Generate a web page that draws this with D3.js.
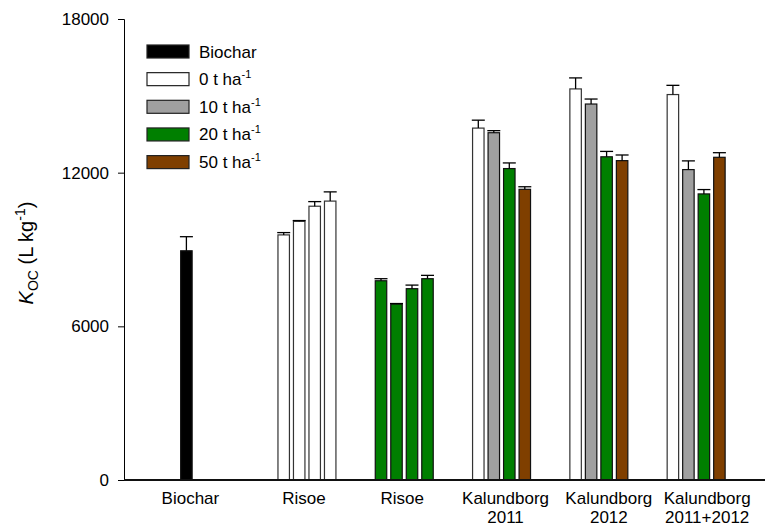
<!DOCTYPE html>
<html>
<head>
<meta charset="utf-8">
<script src="https://cdn.jsdelivr.net/npm/d3@7"></script>
<style>
  body { margin: 0; background: #fff; }
  svg { display: block; font-family: "Liberation Sans", Arial, sans-serif; }
</style>
</head>
<body>
<div id="chart"></div>
<script>
// groups along the x axis
const groups = ["Biochar", "Risoe A", "Risoe B", "Kal 2011", "Kal 2012", "Kal 2011+2012"];
const groupLabels = [["Biochar"], ["Risoe"], ["Risoe"], ["Kalundborg", "2011"], ["Kalundborg", "2012"], ["Kalundborg", "2011+2012"]];

// treatments (legend order)
const treatments = ["Biochar", "0", "10", "20", "50"];
const treatmentColors = ["#000000", "#ffffff", "#a0a0a0", "#007f00", "#7f3f00"];

// bar values and upper error per group
const biocharValues = [8950];
const biocharErrors = [550];
const biocharKeys = ["Biochar"];

const risoeAValues = [9570, 10100, 10690, 10890];
const risoeAErrors = [90, 30, 180, 360];
const risoeAKeys = ["0", "0", "0", "0"];

const risoeBValues = [7780, 6870, 7470, 7860];
const risoeBErrors = [80, 20, 140, 130];
const risoeBKeys = ["20", "20", "20", "20"];

const kal2011Values = [13740, 13560, 12160, 11350];
const kal2011Errors = [310, 80, 220, 100];
const kal2012Values = [15270, 14680, 12620, 12470];
const kal2012Errors = [430, 195, 210, 220];
const kalBothValues = [15050, 12120, 11170, 12600];
const kalBothErrors = [360, 340, 170, 180];
const kalKeys = ["0", "10", "20", "50"];

const yTicks = [0, 6000, 12000, 18000];

// flatten into bar records
function rows(group, values, errors, keys) {
    return values.map((v, i) => ({group: group, slot: i, value: v, err: errors[i], key: keys[i]}));
}
const bars = [].concat(
    rows("Biochar", biocharValues, biocharErrors, biocharKeys),
    rows("Risoe A", risoeAValues, risoeAErrors, risoeAKeys),
    rows("Risoe B", risoeBValues, risoeBErrors, risoeBKeys),
    rows("Kal 2011", kal2011Values, kal2011Errors, kalKeys),
    rows("Kal 2012", kal2012Values, kal2012Errors, kalKeys),
    rows("Kal 2011+2012", kalBothValues, kalBothErrors, kalKeys)
);

const width = 765, height = 526;
const axisLeft = 124, axisBottom = 480;

const svg = d3.select("#chart").append("svg")
    .attr("width", width)
    .attr("height", height);

const y = d3.scaleLinear()
    .domain([0, 18000])
    .range([axisBottom, 19]);

const x0 = d3.scaleBand()
    .domain(groups)
    .range([161, 744.8]);

const slotSpan = 62;
const x1 = d3.scaleBand()
    .domain([0, 1, 2, 3])
    .range([(x0.bandwidth() - slotSpan) / 2, (x0.bandwidth() + slotSpan) / 2])
    .paddingInner(0.26)
    .paddingOuter(0.13);

const color = d3.scaleOrdinal().domain(treatments).range(treatmentColors);

// bars
const barG = svg.append("g");
barG.selectAll("rect")
    .data(bars)
    .enter()
    .append("rect")
    .attr("x", d => x0(d.group) + x1(d.slot))
    .attr("y", d => y(d.value))
    .attr("width", x1.bandwidth())
    .attr("height", d => y(0) - y(d.value))
    .attr("fill", d => color(d.key))
    .attr("stroke", d => d.key == "0" ? "#333" : "#111")
    .attr("stroke-width", 1.2);

// error bars (upper only)
const errG = svg.append("g").attr("stroke", "#000").attr("stroke-width", 1.3);
bars.forEach(d => {
    const cx = x0(d.group) + x1(d.slot) + x1.bandwidth() / 2;
    errG.append("line")
        .attr("x1", cx).attr("x2", cx)
        .attr("y1", y(d.value)).attr("y2", y(d.value + d.err));
    errG.append("line")
        .attr("x1", cx - 6.5).attr("x2", cx + 6.5)
        .attr("y1", y(d.value + d.err)).attr("y2", y(d.value + d.err));
});

// y axis
svg.append("g")
    .attr("transform", `translate(${axisLeft},0)`)
    .call(d3.axisLeft(y).tickValues(yTicks).tickFormat(d3.format("d")).tickSize(6).tickPadding(9))
    .call(g => g.selectAll("text").style("font-size", "17px").attr("fill", "#000")
        .style("font-family", "'Liberation Sans', Arial, sans-serif"))
    .call(g => g.selectAll("line,path").attr("stroke", "#000"));

// x axis line
svg.append("line")
    .attr("x1", axisLeft).attr("x2", width)
    .attr("y1", axisBottom).attr("y2", axisBottom)
    .attr("stroke", "#111")
    .attr("stroke-width", 2);

// category labels (small nudges as in the original figure)
const labelNudge = [4, -3, -2, 4, 10, 11];
const labG = svg.append("g")
    .style("font-size", "17px")
    .attr("text-anchor", "middle");
groups.forEach((g, i) => {
    const cx = (i == 0 ? x0(g) + x1(0) + x1.bandwidth() / 2 : x0(g) + x0.bandwidth() / 2) + labelNudge[i];
    const t = labG.append("text")
        .attr("x", cx)
        .attr("y", 504);
    groupLabels[i].forEach((line, j) => {
        t.append("tspan")
            .attr("x", cx)
            .attr("dy", j == 0 ? 0 : 19)
            .text(line);
    });
});

// y axis title
const yt = svg.append("text")
    .attr("transform", "translate(33,253) rotate(-90)")
    .attr("text-anchor", "middle")
    .style("font-size", "20px");
yt.append("tspan").style("font-style", "italic").text("K");
yt.append("tspan").attr("dy", 5).style("font-size", "14px").text("OC");
yt.append("tspan").attr("dy", -5).text(" (L kg");
yt.append("tspan").attr("dy", -8).style("font-size", "14px").text("-1");
yt.append("tspan").attr("dy", 8).text(")");

// legend
const legendLabels = ["Biochar", "0 t ha", "10 t ha", "20 t ha", "50 t ha"];
const leg = svg.append("g").attr("transform", "translate(147,45)");
treatments.forEach((k, i) => {
    const row = leg.append("g").attr("transform", `translate(0,${i * 27.65})`);
    row.append("rect")
        .attr("width", 42).attr("height", 13)
        .attr("fill", color(k))
        .attr("stroke", "#222")
        .attr("stroke-width", 1.2);
    const t = row.append("text")
        .attr("x", 52).attr("y", 12.5)
        .style("font-size", "17px")
        .text(legendLabels[i]);
    if (i > 0) {
        t.append("tspan").attr("dy", -7).style("font-size", "11px").text("-1");
    }
});
</script>
</body>
</html>
